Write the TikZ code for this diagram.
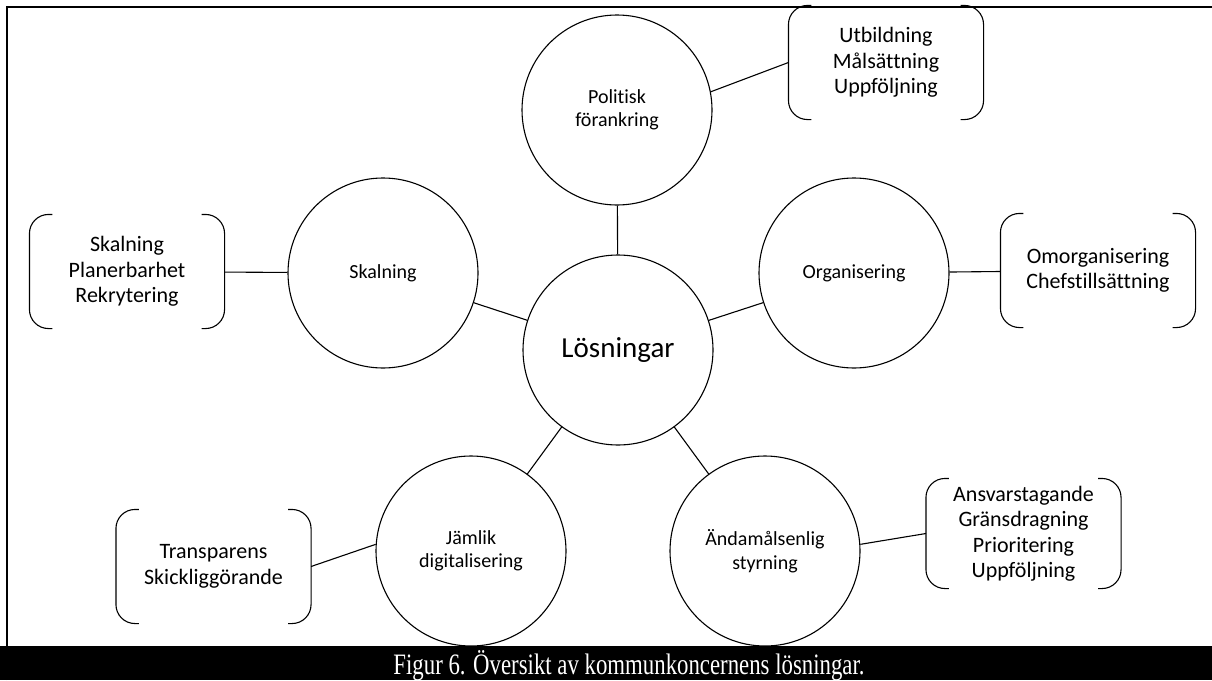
\documentclass[tikz,border=0pt]{standalone}
\usepackage{fontspec}
\setmainfont{Carlito}[Ligatures=NoCommon]
\newfontfamily\captionserif{Liberation Serif}
\usetikzlibrary{positioning}

% bracket pair round a node
\newcommand{\brackets}[1]{%
  \draw[rounded corners=19pt] ([xshift=23pt]#1.north west) -- (#1.north west) -- (#1.south west) -- ([xshift=23pt]#1.south west);
  \draw[rounded corners=19pt] ([xshift=-23pt]#1.north east) -- (#1.north east) -- (#1.south east) -- ([xshift=-23pt]#1.south east);}

\begin{document}
\begin{tikzpicture}[x=1pt,y=-1pt,line width=1.1pt,
    circ/.style={circle,draw,minimum size=190pt,inner sep=0pt,align=center,font=\fontsize{20}{23.5}\selectfont},
    brk/.style={rectangle,minimum width=194pt,minimum height=113pt,inner sep=0pt,align=center,font=\fontsize{22}{25.5}\selectfont}]
  \useasboundingbox (0,0) rectangle (1212,680);
  \draw[line width=2pt] (7,680) -- (7,6.5) -- (1212,6.5);

  \node[circ,font=\fontsize{29}{34}\selectfont] (losn) at (618,350) {Lösningar};
  \node[circ] (polit) at (617,110) {Politisk\\förankring};
  \node[circ] (skal) at (383,273) {Skalning};
  \node[circ] (org) at (854,273) {Organisering};
  \node[circ] (jaml) at (471,551) {Jämlik\\digitalisering};
  \node[circ] (andam) at (765,551) {Ändamålsenlig\\styrning};

  \node[brk] (brk1) at (886,62.5) {Utbildning\\Målsättning\\Uppföljning};
  \node[brk] (brk2) at (127,271.5) {Skalning\\Planerbarhet\\Rekrytering};
  \node[brk] (brk3) at (1098,270.5) {Omorganisering\\Chefstillsättning};
  \node[brk,minimum height=109pt] (brk4) at (1023.5,533.5) {Ansvarstagande\\Gränsdragning\\Prioritering\\Uppföljning};
  \node[brk] (brk5) at (213.5,566.5) {Transparens\\Skickliggörande};
  \foreach \b in {brk1,brk2,brk3,brk4,brk5} {\brackets{\b}}

  \draw (losn) -- (polit);
  \draw (losn) -- (skal);
  \draw (losn) -- (org);
  \draw (losn) -- (jaml);
  \draw (losn) -- (andam);
  \draw (polit.11) -- (brk1.west);
  \draw (brk2) -- (skal);
  \draw (org) -- (brk3);
  \draw (andam.4) -- (brk4.west);
  \draw (brk5.east) -- (jaml.176);

  \fill (0,646) rectangle (1212,680);
  \node[text=white,font=\captionserif\fontsize{22.8}{27}\selectfont,anchor=base] (capt) at (629,674) {\scalebox{1}[1.3]{Figur 6. Översikt av kommunkoncernens lösningar.}};
\end{tikzpicture}
\end{document}
